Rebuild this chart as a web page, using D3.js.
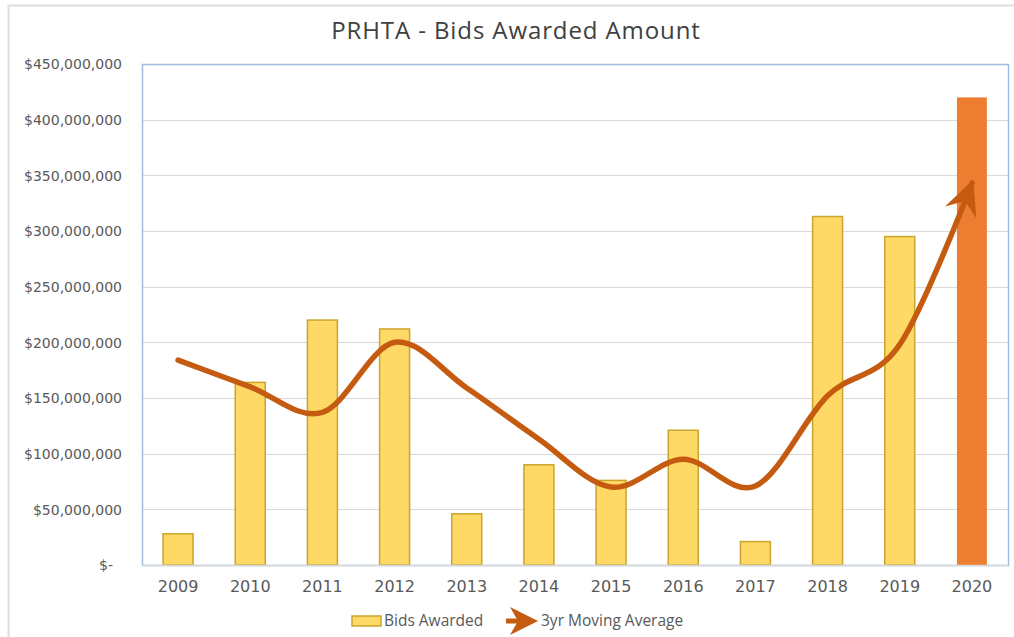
<!DOCTYPE html>
<html lang="en">
<head>
  <meta charset="UTF-8">
  <title>PRHTA - Bids Awarded Amount</title>
  <style>
    body { margin: 0; background: #fff; }
    svg { display: block; }
    .tick-label { font-family: 'DejaVu Sans', sans-serif; fill: #595959; }
    .title { font-family: 'Open Sans', sans-serif; font-size: 24px; letter-spacing: 0.9px; fill: #404040; }
    .legend { font-family: 'Open Sans', sans-serif; font-size: 15.5px; fill: #595959; }
  </style>
</head>
<body>
  <svg width="1014" height="637"></svg>
  <script src="https://d3js.org/d3.v7.min.js"></script>
  <script>
    // Data
    const years = ['2009', '2010', '2011', '2012', '2013', '2014', '2015', '2016', '2017', '2018', '2019', '2020'];
    const bidsAwarded = [28e6, 164e6, 220e6, 212e6, 46e6, 90e6, 76e6, 121e6, 21e6, 313e6, 295e6, 420e6];
    const movingAverage = [184e6, 160e6, 137e6, 200e6, 159e6, 113e6, 70e6, 95e6, 71e6, 152e6, 198e6, 343e6];
    const yTicks = [0, 50e6, 100e6, 150e6, 200e6, 250e6, 300e6, 350e6, 400e6, 450e6];

    const svg = d3.select('svg');

    // Plot area
    const plot = { left: 142, top: 64, right: 1008, bottom: 565 };

    const x = d3.scaleBand()
      .domain(years)
      .range([plot.left, plot.right])
      .paddingInner(0.585)
      .paddingOuter(0.2925);

    const y = d3.scaleLinear()
      .domain([0, 450e6])
      .range([plot.bottom, plot.top]);

    // Outer frame (left + top light lines)
    svg.append('path')
      .attr('d', 'M8.5,637 L8.5,5.5 L1014,5.5')
      .attr('fill', 'none')
      .attr('stroke', '#dedede')
      .attr('stroke-width', 2);

    // Title
    svg.append('text')
      .attr('class', 'title')
      .attr('x', 516)
      .attr('y', 39)
      .attr('text-anchor', 'middle')
      .text('PRHTA - Bids Awarded Amount');

    // Gridlines
    svg.append('g')
      .selectAll('line')
      .data(yTicks.filter(d => d > 0 && d < 450e6))
      .join('line')
      .attr('x1', plot.left)
      .attr('x2', plot.right)
      .attr('y1', d => Math.round(y(d)) + 0.5)
      .attr('y2', d => Math.round(y(d)) + 0.5)
      .attr('stroke', '#d9d9d9')
      .attr('stroke-width', 1.2);

    // Plot area border
    svg.append('rect')
      .attr('x', plot.left + 0.5)
      .attr('y', plot.top + 0.5)
      .attr('width', plot.right - plot.left)
      .attr('height', plot.bottom - plot.top)
      .attr('fill', 'none')
      .attr('stroke', '#9dbce0')
      .attr('stroke-width', 1.5);

    // Y axis labels
    const yAxis = d3.axisLeft(y)
      .tickValues(yTicks)
      .tickSize(0)
      .tickPadding(20)
      .tickFormat(d => d === 0 ? '$-' : d3.format('$,')(d));

    const yg = svg.append('g')
      .attr('transform', `translate(${plot.left},0)`)
      .call(yAxis);
    yg.select('.domain').remove();
    yg.selectAll('text')
      .attr('class', 'tick-label')
      .style('font-size', '14px')
      .attr('fill', '#595959')
      .attr('dy', '0.35em')
      .attr('dx', d => d === 0 ? -9 : 0);

    // Bars
    svg.append('g')
      .selectAll('rect')
      .data(years.map((yr, i) => ({ year: yr, value: bidsAwarded[i] })))
      .join('rect')
      .attr('x', d => x(d.year))
      .attr('y', d => y(d.value))
      .attr('width', x.bandwidth())
      .attr('height', d => y(0) - y(d.value))
      .attr('fill', d => d.year === '2020' ? '#ed7d31' : '#ffd966')
      .attr('stroke', d => d.year === '2020' ? 'none' : '#c9a52c')
      .attr('stroke-width', 1.5);

    // X axis
    const xAxis = d3.axisBottom(x).tickSize(0).tickPadding(16);
    const xg = svg.append('g')
      .attr('transform', `translate(0,${plot.bottom})`)
      .call(xAxis);
    xg.select('.domain')
      .attr('stroke', '#d9d9d9')
      .attr('stroke-width', 1.5);
    xg.selectAll('text')
      .attr('class', 'tick-label')
      .style('font-size', '16px')
      .attr('fill', '#595959');

    // Arrow marker
    const defs = svg.append('defs');
    defs.append('marker')
      .attr('id', 'arrow')
      .attr('viewBox', '-10 -6 12 12')
      .attr('refX', 0)
      .attr('refY', 0)
      .attr('markerUnits', 'userSpaceOnUse')
      .attr('markerWidth', 42)
      .attr('markerHeight', 42)
      .attr('orient', 'auto')
      .append('path')
      .attr('d', 'M1,0 L-9,-4.8 L-5.5,0 L-9,4.8 Z')
      .attr('fill', '#c55a11');

    // 3yr moving average line
    const line = d3.line()
      .x((d, i) => x(years[i]) + x.bandwidth() / 2)
      .y(d => y(d))
      .curve(d3.curveCardinal.tension(0));

    svg.append('path')
      .datum(movingAverage)
      .attr('d', line)
      .attr('fill', 'none')
      .attr('stroke', '#c55a11')
      .attr('stroke-width', 5.5)
      .attr('stroke-linecap', 'round')
      .attr('marker-end', 'url(#arrow)');

    // Legend
    const legend = svg.append('g');
    legend.append('rect')
      .attr('x', 352)
      .attr('y', 616)
      .attr('width', 29)
      .attr('height', 10)
      .attr('fill', '#ffd966')
      .attr('stroke', '#c9a52c')
      .attr('stroke-width', 1.5);
    legend.append('text')
      .attr('class', 'legend')
      .attr('x', 384)
      .attr('y', 626)
      .text('Bids Awarded');

    legend.append('path')
      .attr('d', 'M506,621 L522,621')
      .attr('stroke', '#c55a11')
      .attr('stroke-width', 5);
    legend.append('path')
      .attr('d', 'M538,621 L510,607 L518,621 L510,635 Z')
      .attr('fill', '#c55a11');
    legend.append('text')
      .attr('class', 'legend')
      .attr('x', 541)
      .attr('y', 626)
      .text('3yr Moving Average');
  </script>
</body>
</html>
